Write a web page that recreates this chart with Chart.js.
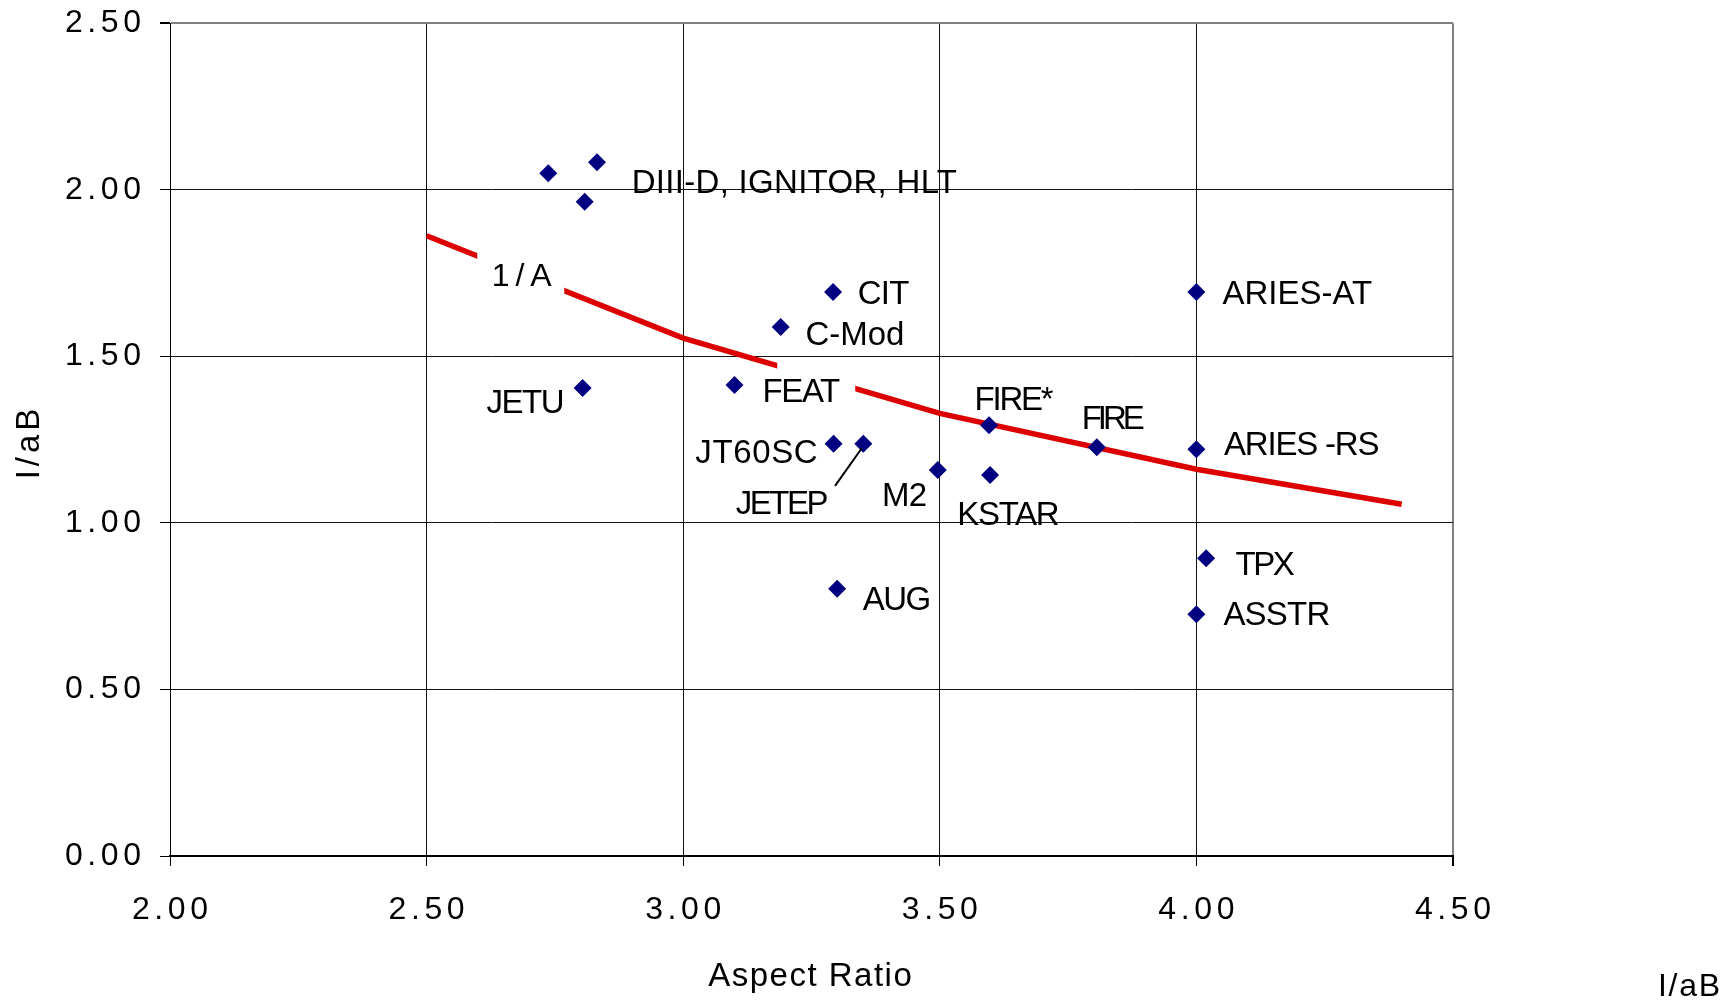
<!DOCTYPE html>
<html><head><meta charset="utf-8">
<script src="https://cdn.jsdelivr.net/npm/chart.js@4"></script>
<style>html,body{margin:0;padding:0;background:#fff;}canvas{display:block;}</style>
</head><body>
<canvas id="c" width="1736" height="1003"></canvas>
<script>
// ---- data ----
const machineLabels = ['', 'DIII-D, IGNITOR, HLT', '', 'JETU', 'CIT', 'C-Mod', 'FEAT', 'JT60SC', 'JETEP', 'M2', 'KSTAR', 'FIRE*', 'FIRE', 'ARIES-AT', 'ARIES -RS', 'TPX', 'ASSTR', 'AUG'];
const aspectRatio  = [2.737, 2.832, 2.808, 2.804, 3.292, 3.190, 3.100, 3.293, 3.351, 3.496, 3.598, 3.596, 3.806, 4.000, 4.000, 4.019, 4.000, 3.300];
const currentRatio = [2.050, 2.083, 1.964, 1.405, 1.693, 1.588, 1.414, 1.238, 1.238, 1.159, 1.144, 1.293, 1.227, 1.693, 1.221, 0.894, 0.726, 0.802];
const fitAspect = [2.5, 3.0, 3.5, 4.0, 4.4];
const fitValue  = [1.862, 1.555, 1.329, 1.161, 1.056];
const fitName = '1 / A';
const fitLabelAt = [2.624, 1.710];
const seriesName = 'I/aB';
const xTitle = 'Aspect Ratio';
const yTitle = 'I/aB';
const xRange = [2, 4.5], yRange = [0, 2.5], tickStep = 0.5;

// ---- label placement (style): [align, dx, dy, letterSpacing] ----
const labelStyle = [
  null, ['left', 34.7, 18.7, 0.3], null,
  ['right', -18, 13.4, -1.5], ['left', 24.6, 0.4, -0.7], ['left', 24.7, 6.4, 0],
  ['left', 28, 5.4, -1.4], ['right', -16, 7.5, 0.6], ['left', -127.6, 58.8, -2.5],
  ['right', -10.6, 24.7, -0.8], ['center', 18.3, 37.8, -1.3], ['center', 25, -27, -2.2],
  ['center', 16.4, -30.6, -4], ['left', 26, 0.5, 0], ['left', 27.6, -6.5, -1.2],
  ['left', 29.3, 5, -2.4], ['left', 27, -1, -0.8], ['left', 25.6, 8.9, -1.6]
];
const FONT = '"Liberation Sans", Arial, sans-serif';

function drawText(ctx, text, x, baseY, align, ls, size) {
  ctx.font = size + 'px ' + FONT;
  ctx.letterSpacing = ls + 'px';
  ctx.textAlign = 'left';
  ctx.textBaseline = 'alphabetic';
  const w = ctx.measureText(text).width - ls;
  let sx = x;
  if (align === 'right') sx = x - w; else if (align === 'center') sx = x - w / 2;
  ctx.fillText(text, sx, baseY);
  return sx;
}

const decorPlugin = {
  id: 'decor',
  beforeDraw(chart) { chart.ctx.letterSpacing = '4.6px'; },
  beforeDatasetsDraw(chart) { chart.ctx.letterSpacing = '0px'; },
  afterDatasetsDraw(chart) {
    const ctx = chart.ctx;
    const xs = chart.scales.x, ys = chart.scales.y;
    const meta = chart.getDatasetMeta(0);
    ctx.save();
    // white label boxes over the fit line
    ctx.fillStyle = '#fff';
    const ax = xs.getPixelForValue(fitLabelAt[0]), ay = ys.getPixelForValue(fitLabelAt[1]);
    ctx.fillRect(ax - 13, ay - 37, 87, 52);
    const feat = meta.data[6];
    ctx.fillRect(feat.x + 42.7, feat.y - 26.3, 78, 51);
    ctx.fillStyle = '#000';
    drawText(ctx, fitName, ax + 1.5, ay, 'left', -1.5, 32);
    // leader line for JETEP
    const je = meta.data[8];
    ctx.strokeStyle = '#000';
    ctx.lineWidth = 2;
    ctx.beginPath();
    ctx.moveTo(je.x - 28.3, je.y + 42.3);
    ctx.lineTo(je.x - 1.6, je.y + 4.6);
    ctx.stroke();
    // point labels
    machineLabels.forEach((t, i) => {
      const st = labelStyle[i];
      if (!t || !st) return;
      const p = meta.data[i];
      drawText(ctx, t, p.x + st[1], p.y + st[2] + 11.8, st[0], st[3], 33);
    });
    // axis titles and series name
    const cx = (chart.chartArea.left + chart.chartArea.right) / 2;
    drawText(ctx, xTitle, cx - 1.5, 985.7, 'center', 1.5, 33);
    ctx.save();
    ctx.translate(27.5 + 11.8, 444);
    ctx.rotate(-Math.PI / 2);
    ctx.font = '33px ' + FONT;
    ctx.letterSpacing = '4px';
    const w = ctx.measureText(yTitle).width - 4;
    ctx.textAlign = 'left';
    ctx.textBaseline = 'alphabetic';
    ctx.fillText(yTitle, -w / 2, 0);
    ctx.restore();
    drawText(ctx, seriesName, 1658, 996, 'left', 1.7, 32);
    ctx.restore();
  }
};

const gridColor = (top) => (c) => (c.tick && Math.abs(c.tick.value - top) < 1e-9) ? '#808080' : '#111';
const gridWidth = (top) => (c) => (c.tick && Math.abs(c.tick.value - top) < 1e-9) ? 2 : 1;

new Chart(document.getElementById('c'), {
  data: {
    datasets: [
      {
        type: 'scatter', label: seriesName, order: 0,
        data: aspectRatio.map((x, i) => ({x, y: currentRatio[i]})),
        pointStyle: 'rectRot', pointRadius: 9, pointHoverRadius: 9,
        backgroundColor: '#000080', borderColor: '#000080', borderWidth: 0
      },
      {
        type: 'line', label: fitName, order: 1,
        data: fitAspect.map((x, i) => ({x, y: fitValue[i]})),
        borderColor: '#dd0000', borderWidth: 5.5, pointRadius: 0, tension: 0, fill: false
      }
    ]
  },
  options: {
    responsive: false, animation: false, devicePixelRatio: 1,
    layout: {padding: {left: 0, right: 283, top: 23.3, bottom: 0}},
    plugins: {legend: {display: false}, tooltip: {enabled: false}},
    scales: {
      x: {
        type: 'linear', position: 'bottom', min: xRange[0], max: xRange[1],
        afterFit: s => { s.height = 147; },
        ticks: {stepSize: tickStep, color: '#000', padding: 24.5, labelOffset: 2.3,
          font: {family: FONT, size: 32, lineHeight: 1.2},
          callback: v => Number(v).toFixed(2), maxRotation: 0, autoSkip: false},
        grid: {color: gridColor(xRange[1]), lineWidth: gridWidth(xRange[1]), tickLength: 10, tickColor: '#000', drawTicks: true},
        border: {color: '#000', width: 2},
        title: {display: false}
      },
      y: {
        type: 'linear', min: yRange[0], max: yRange[1],
        afterFit: s => { s.width = 170; },
        ticks: {stepSize: tickStep, color: '#000', padding: 14.4,
          font: {family: FONT, size: 32, lineHeight: 0.25},
          callback: v => Number(v).toFixed(2)},
        grid: {color: gridColor(yRange[1]), lineWidth: gridWidth(yRange[1]), tickLength: 10, tickColor: '#000', drawTicks: true},
        border: {color: '#000', width: 1},
        title: {display: false}
      }
    }
  },
  plugins: [decorPlugin]
});
</script>
</body></html>
